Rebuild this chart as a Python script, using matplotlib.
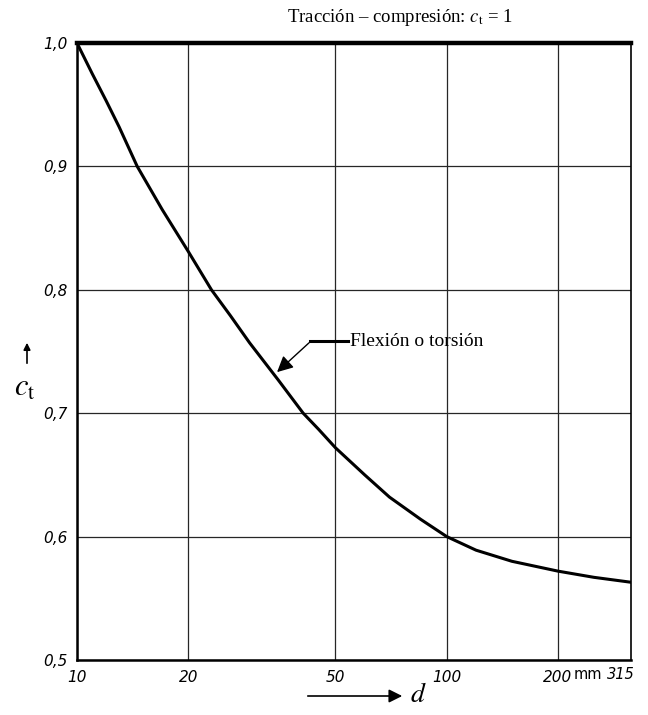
import matplotlib.pyplot as plt
import matplotlib.ticker as mticker
from matplotlib.patches import FancyArrowPatch
from matplotlib.lines import Line2D

# valores
d_mm = [10, 11, 12, 13, 14.55, 17, 20, 23.1, 26, 29.3, 35, 40.9, 45, 50,
        60, 70, 85, 100, 120, 150, 200, 250, 315]
c_t = [1.0, 0.975, 0.953, 0.932, 0.9, 0.865, 0.831, 0.8, 0.779, 0.757, 0.727,
       0.7, 0.687, 0.672, 0.650, 0.632, 0.614, 0.6, 0.589, 0.58, 0.572, 0.567, 0.563]

x_ticks = [10, 20, 50, 100, 200]
x_labels = ['10', '20', '50', '100', '200']
y_ticks = [0.5, 0.6, 0.7, 0.8, 0.9, 1.0]
y_labels = ['0,5', '0,6', '0,7', '0,8', '0,9', '1,0']

plt.rcParams['mathtext.fontset'] = 'stix'

fig = plt.figure(figsize=(6.48, 7.15), dpi=100)
ax = fig.add_axes([77/648, 1 - 660/715, (631 - 77)/648, (660 - 43)/715])

ax.plot(d_mm, c_t, color='black', linewidth=2.2, solid_capstyle='round')

ax.set_xscale('log')
ax.set_xlim(10, 315)
ax.set_ylim(0.5, 1.0)
ax.xaxis.set_major_locator(mticker.FixedLocator(x_ticks))
ax.xaxis.set_minor_locator(mticker.NullLocator())
ax.set_xticklabels(x_labels)
ax.set_yticks(y_ticks)
ax.set_yticklabels(y_labels)
ax.tick_params(length=0, pad=7)
for lab in ax.get_xticklabels() + ax.get_yticklabels():
    lab.set_fontstyle('italic')
    lab.set_fontsize(11)

# "mm" y 315 al final del eje
tick_kw = dict(transform=ax.get_xaxis_transform(), va='top', fontsize=10.5)
ax.text(241, -0.012, 'mm', ha='center', **tick_kw)
ax.text(322, -0.012, '315', ha='right', style='italic', **tick_kw)

ax.grid(True, which='major', color='0.15', linewidth=0.9)

ax.spines['top'].set_linewidth(3.2)
ax.spines['left'].set_linewidth(1.8)
ax.spines['bottom'].set_linewidth(1.8)
ax.spines['right'].set_linewidth(1.2)

# leyenda de la curva (coordenadas en pixeles de la figura)
def px(x, y):
    return (x / 648, 1 - y / 715)

fig.lines.append(Line2D([px(310, 0)[0], px(348, 0)[0]], [px(0, 341)[1]] * 2,
                        transform=fig.transFigure, color='black', linewidth=2.2))
fig.patches.append(FancyArrowPatch(px(311, 341), px(275, 374), transform=fig.transFigure,
                                   arrowstyle='-|>', mutation_scale=24,
                                   color='black', linewidth=1.0))
fig.text(*px(350, 341), 'Flexión o torsión', family='Liberation Serif',
         fontsize=14, va='center', ha='left')

fig.text(*px(400, 17), 'Tracción \u2013 compresión: $c_\\mathrm{t}$ = 1',
         family='Liberation Serif', fontsize=13.5, va='center', ha='center')

# etiquetas de ejes con flechas
fig.text(*px(14, 388), '$c_\\mathrm{t}$', fontsize=22, va='center', ha='left')
fig.patches.append(FancyArrowPatch(px(27, 366), px(27, 340), transform=fig.transFigure,
                                   arrowstyle='-|>', mutation_scale=10,
                                   color='black', linewidth=1.2))
fig.patches.append(FancyArrowPatch(px(305, 696), px(405, 696), transform=fig.transFigure,
                                   arrowstyle='-|>', mutation_scale=20,
                                   color='black', linewidth=1.2))
fig.text(*px(410, 694), '$d$', fontsize=20, va='center', ha='left')

fig.savefig('out.png', dpi=100)
